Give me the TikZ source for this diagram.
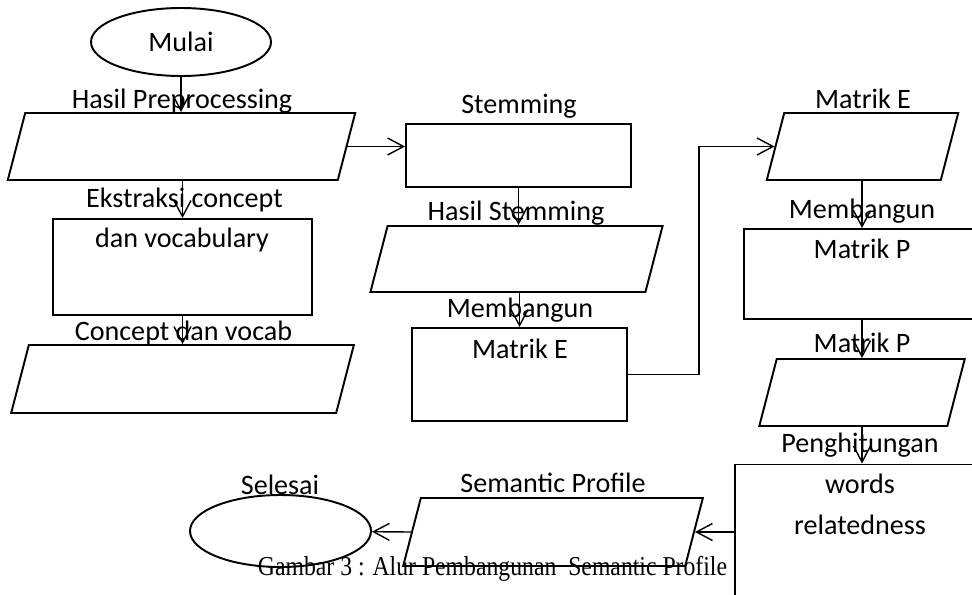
\documentclass[tikz,border=0pt]{standalone}
\usepackage{fontspec}
\setmainfont{Carlito}
\newfontfamily\capfont{Liberation Serif}
\usetikzlibrary{shapes.geometric,arrows.meta}

\tikzset{
  flow/.style={draw, line width=1.1pt, inner sep=0pt},
  term/.style={flow, ellipse},
  proc/.style={flow, rectangle},
  data/.style={flow, rectangle, xslant=0.26},
  lbl/.style={anchor=base, inner sep=0pt},
  arr/.style={line width=0.8pt, -{Straight Barb[length=3.2mm, width=3.4mm]}},
}

\begin{document}
\begin{tikzpicture}[font=\fontsize{16}{19}\selectfont]
    \useasboundingbox (0,0) rectangle (19.44,11.88);

    % kolom kiri
    \node[term, minimum width=3.6cm, minimum height=1.36cm] (mulai) at (3.62,11.04) {Mulai};
    \node[data, minimum width=6.6cm, minimum height=1.34cm] (pre) at (3.63,8.95) {};
    \node[proc, minimum width=5.18cm, minimum height=1.92cm] (ext) at (3.65,6.54) {};
    \node[data, minimum width=6.5cm, minimum height=1.36cm] (con) at (3.65,4.30) {};
    \node[lbl] (lpre) at (3.64,9.72) {Hasil Preprocessing};
    \node[lbl] (lext) at (3.69,7.74) {Ekstraksi concept};
    \node[lbl] (lext2) at (3.64,6.94) {dan vocabulary};
    \node[lbl] (lcon) at (3.67,5.08) {Concept dan vocab};

    % kolom tengah
    \node[proc, minimum width=4.5cm, minimum height=1.26cm] (stem) at (10.37,8.77) {};
    \node[data, minimum width=5.5cm, minimum height=1.32cm] (hs) at (10.33,6.70) {};
    \node[proc, minimum width=4.3cm, minimum height=1.86cm] (me) at (10.39,4.39) {};
    \node[lbl] (lstem) at (10.38,9.62) {Stemming};
    \node[lbl] (lhs) at (10.32,7.48) {Hasil Stemming};
    \node[lbl] (lme) at (10.40,5.54) {Membangun};
    \node[lbl] (lme2) at (10.40,4.72) {Matrik E};

    % kolom kanan
    \node[data, minimum width=3.48cm, minimum height=1.34cm] (mE) at (17.25,8.95) {};
    \node[proc, minimum width=4.72cm, minimum height=1.8cm] (mp) at (17.24,6.40) {};
    \node[data, minimum width=3.76cm, minimum height=1.34cm] (mPp) at (17.24,4.03) {};
    \node[proc, minimum width=5.08cm, minimum height=3.5cm] (ph) at (17.24,0.84) {};
    \node[lbl] (lmE) at (17.26,9.72) {Matrik E};
    \node[lbl] (lmp) at (17.24,7.52) {Membangun};
    \node[lbl] (lmp2) at (17.24,6.72) {Matrik P};
    \node[lbl] (lmPp) at (17.24,4.84) {Matrik P};
    \node[lbl] (lph) at (17.20,2.84) {Penghitungan};
    \node[lbl] (lph2) at (17.20,2.02) {words};
    \node[lbl] (lph3) at (17.20,1.20) {relatedness};

    % baris bawah
    \node[data, minimum width=5.64cm, minimum height=1.36cm] (sp) at (11.06,1.24) {};
    \node[term, minimum width=3.62cm, minimum height=1.44cm] (sel) at (5.61,1.26) {};
    \node[lbl] (lsp) at (11.06,2.04) {Semantic Profile};
    \node[lbl] (lsel) at (5.60,2.00) {Selesai};

    % alur
    \draw[arr] (mulai.south) -- (mulai.south |- pre.north);
    \draw[arr] (pre.east) -- (pre.east -| stem.west);
    \draw[arr] (ext.north |- pre.south) -- (ext.north);
    \draw[arr] (ext.south) -- (ext.south |- con.north);
    \draw[arr] (stem.south) -- (stem.south |- hs.north);
    \draw[arr] (me.north |- hs.south) -- (me.north);
    \draw[arr] (me.east) -- ++(1.42,0) |- (mE.west);
    \draw[arr] (mp.north |- mE.south) -- (mp.north);
    \draw[arr] (mp.south) -- (mp.south |- mPp.north);
    \draw[arr] (ph.north |- mPp.south) -- (ph.north);
    \draw[arr] (sp.east -| ph.west) -- (sp.east);
    \draw[arr] (sp.west) -- (sel);

    \node[lbl, font=\capfont\fontsize{13.5}{16}\selectfont] (cap) at (9.85,0.38)
        {\scalebox{1}[1.15]{Gambar 3 : Alur Pembangunan\ \ Semantic Profile}};
\end{tikzpicture}
\end{document}
